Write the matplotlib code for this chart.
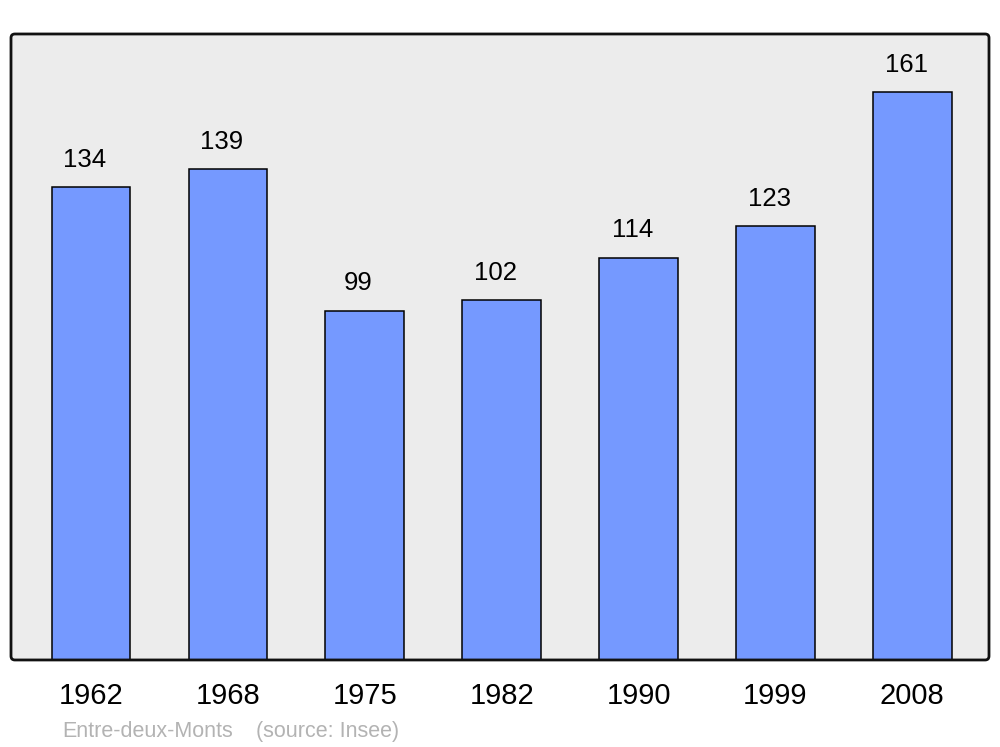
import matplotlib
matplotlib.use("Agg")
import matplotlib.pyplot as plt
from matplotlib.patches import FancyBboxPatch

years = ["1962", "1968", "1975", "1982", "1990", "1999", "2008"]
population = [134, 139, 99, 102, 114, 123, 161]

plt.rcParams['font.family'] = ['Liberation Sans', 'DejaVu Sans']

fig = plt.figure(figsize=(10, 7.47), dpi=100)
ax = fig.add_axes([0.011, 0.1165, 0.978, 0.838])
ax.set_facecolor('#ececec')

x = list(range(len(years)))
bars = ax.bar(x, population, width=0.575, color='#7599ff', edgecolor='black', linewidth=1.1, zorder=3)
for xi, v in zip(x, population):
    ax.annotate(str(v), (xi, v), xytext=(-4.5, 11), textcoords='offset points',
                ha='center', va='bottom', fontsize=18.5, color='black')

ax.set_xlim(-0.585, 6.56)
ax.set_ylim(0, 177.4)
ax.set_xticks(x)
ax.set_xticklabels(years, fontsize=21)
ax.tick_params(axis='x', length=0, pad=16)
ax.set_yticks([])
for s in ax.spines.values():
    s.set_visible(False)

frame = FancyBboxPatch((0, 0), 1, 1, boxstyle="round,pad=0,rounding_size=0.004",
                       mutation_aspect=978 / 626, transform=ax.transAxes,
                       facecolor='none', edgecolor='#111111', linewidth=2, clip_on=False, zorder=5)
ax.add_patch(frame)

fig.text(0.062, 1 - 737 / 747, "Entre-deux-Monts", fontsize=15.5,
         color='#b3b3b3', ha='left', va='baseline')
fig.text(0.256, 1 - 737 / 747, "(source: Insee)", fontsize=15.5,
         color='#b3b3b3', ha='left', va='baseline')

fig.savefig('out.png', dpi=100)
